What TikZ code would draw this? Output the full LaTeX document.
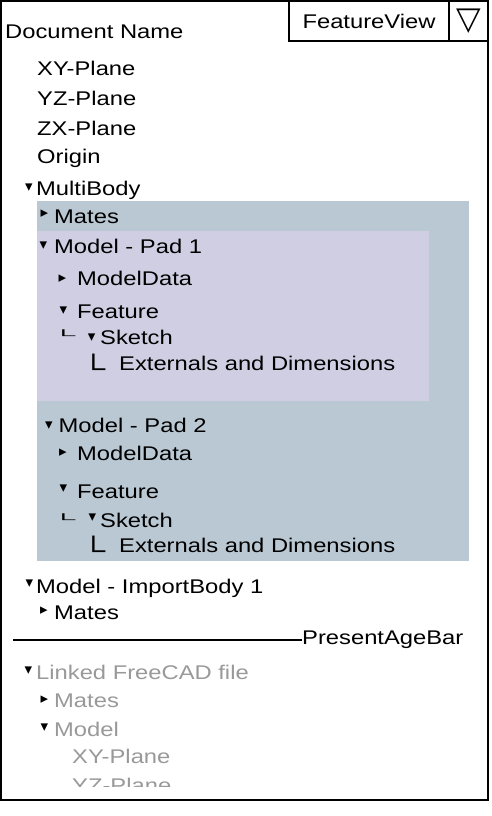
\documentclass[tikz,border=0pt]{standalone}
\usepackage{fontspec}
\usepackage{graphicx}
\setmainfont{Liberation Sans}[FakeStretch=1.2]
\newfontfamily\symfont{DejaVu Sans}
\definecolor{bodyblue}{HTML}{BAC8D3}
\definecolor{padlilac}{HTML}{D0CEE2}
\definecolor{linkgray}{HTML}{999999}
\newcommand{\bigcorner}{\scalebox{1.41}[1.3]{└}}
\newcommand{\smallcorner}{\scalebox{1.41}[0.54]{└}}

\begin{document}
\begin{tikzpicture}[x=1pt,y=-1pt]
\tikzset{item/.style = {anchor=base west, inner sep=0pt, font=\fontsize{19.8}{22}\selectfont},
  linked/.style = {item, text=linkgray},
  tri/.style = {inner sep=0pt, font=\symfont\fontsize{15}{15}\selectfont},
  corner/.style = {item},
  viewbox/.style = {draw, line width=2pt, minimum height=40pt, inner sep=0pt}}

\useasboundingbox (0,0) rectangle (492,816);
\fill[bodyblue] (37,201) rectangle (469,561);
\fill[padlilac] (37,231) rectangle (429,401);
\draw[line width=2pt] (1,1) rectangle (488,800);

\node[viewbox, minimum width=160pt, font=\fontsize{19.8}{22}\selectfont] (featview) at (369,21) {FeatureView};
\node[viewbox, minimum width=39pt, font=\symfont\fontsize{32}{32}\selectfont] (drop) at (468.5,21) {▽};

\node[item] (docname) at (5,39) {Document Name};
\node[item] (xy) at (37,75) {XY-Plane};
\node[item] (yz) at (37,105) {YZ-Plane};
\node[item] (zx) at (37,135) {ZX-Plane};
\node[item] (origin) at (37,163) {Origin};
\node[item] (multi) at (36,195) {MultiBody};
\node[tri] (multitri) at (29,188) {▾};

\node[item] (mates) at (54,223) {Mates};
\node[tri] (matestri) at (44.5,214) {▸};

% Pad 1
\node[item] (padA) at (54,253) {Model - Pad 1};
\node[tri] (padAtri) at (43.5,246) {▾};
\node[item] (dataA) at (77,285.5) {ModelData};
\node[tri] (dataAtri) at (62.5,278.5) {▸};
\node[item] (featA) at (77,318.5) {Feature};
\node[tri] (featAtri) at (63.5,310.5) {▾};
\node[corner] (cornerA) at (51.3,339.7) {\smallcorner};
\node[item] (sketchA) at (100,344.5) {Sketch};
\node[tri] (sketchAtri) at (91.7,337.8) {▾};
\node[corner] (cornerB) at (81.3,377) {\bigcorner};
\node[item] (extA) at (119,370) {Externals and Dimensions};

% Pad 2
\node[item] (padB) at (58.5,432.5) {Model - Pad 2};
\node[tri] (padBtri) at (49,425.5) {▾};
\node[item] (dataB) at (77,460.5) {ModelData};
\node[tri] (dataBtri) at (63,453) {▸};
\node[item] (featB) at (77,498.5) {Feature};
\node[tri] (featBtri) at (63.5,488.5) {▾};
\node[corner] (cornerC) at (51.3,523.7) {\smallcorner};
\node[item] (sketchB) at (100,527) {Sketch};
\node[tri] (sketchBtri) at (92.5,518) {▾};
\node[corner] (cornerD) at (81.3,559) {\bigcorner};
\node[item] (extB) at (119,552) {Externals and Dimensions};

\node[item] (import) at (36,593) {Model - ImportBody 1};
\node[tri] (importtri) at (29.5,584) {▾};
\node[item] (importmates) at (54,619) {Mates};
\node[tri] (importmatestri) at (44,610.5) {▸};

\coordinate (barstart) at (13,640);
\node[item, anchor=west] (bar) at (302,640) {PresentAgeBar};
\draw[line width=1.6pt] (barstart) -- (bar.west);

% linked file
\node[linked] (linkfile) at (36,679) {Linked FreeCAD file};
\node[tri] (linkfiletri) at (28.5,670.5) {▾};
\node[linked] (linkmates) at (54,707) {Mates};
\node[tri] (linkmatestri) at (44.5,699.5) {▸};
\node[linked] (linkmodel) at (54,736) {Model};
\node[tri] (linkmodeltri) at (44.5,727.5) {▾};
\node[linked] (linkxy) at (72,763) {XY-Plane};
\begin{scope}
\clip (0,0) rectangle (492,786);
\node[linked] (linkyz) at (72,792) {YZ-Plane};
\end{scope}
\end{tikzpicture}
\end{document}
